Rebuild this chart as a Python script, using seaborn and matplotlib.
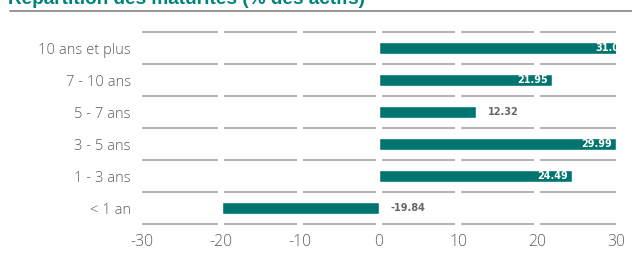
import matplotlib
matplotlib.use("Agg")
import matplotlib.pyplot as plt
from matplotlib.lines import Line2D
import seaborn as sns
import pandas as pd

categories = ["10 ans et plus", "7 - 10 ans", "5 - 7 ans", "3 - 5 ans", "1 - 3 ans", "< 1 an"]
values = [31.0, 21.95, 12.32, 29.99, 24.49, -19.84]
value_labels = ["31.0", "21.95", "12.32", "29.99", "24.49", "-19.84"]
x_ticks = [-30, -20, -10, 0, 10, 20, 30]

teal = "#00756f"
grey_txt = "#5e5e5e"
grid_col = "#a6a6a6"

sns.set_style("white")
plt.rcParams["font.family"] = ["Open Sans", "DejaVu Sans"]

df = pd.DataFrame({"cat": categories, "val": values})

fig = plt.figure(figsize=(6.32, 2.56), dpi=100)
ax = fig.add_axes([142 / 632, 1 - 224 / 256, 474 / 632, 192 / 256])

sns.barplot(data=df, x="val", y="cat", order=categories, color=teal,
            width=0.375, saturation=1, ax=ax, zorder=3)

ax.set_xlim(-30, 30)
ax.set_ylim(len(categories) - 0.5, -0.5)

# segmented horizontal grid between categories
gap = 0.42
for b in range(len(categories) + 1):
    yb = b - 0.5
    for i in range(len(x_ticks) - 1):
        x0 = x_ticks[i] + (gap if i > 0 else 0)
        x1 = x_ticks[i + 1] - (gap if i < len(x_ticks) - 2 else 0)
        ax.hlines(yb, x0, x1, color=grid_col, lw=1.2, zorder=1, clip_on=False)

# value labels
for i, (v, lab) in enumerate(zip(values, value_labels)):
    if v > 15:
        ax.annotate(lab, (v, i), xytext=(-3, 0), textcoords="offset points",
                    ha="right", va="center", color="white", fontsize=7,
                    fontweight="bold", family="DejaVu Sans", clip_on=True,
                    annotation_clip=False, zorder=4)
    else:
        ax.annotate(lab, (max(v, 0), i), xytext=(8.5, 0), textcoords="offset points",
                    ha="left", va="center", color="#666666", fontsize=7,
                    fontweight="bold", family="DejaVu Sans", zorder=4)

ax.set_xticks(x_ticks)
ax.set_xticklabels([str(t) for t in x_ticks])
ax.set_xlabel("")
ax.set_ylabel("")
ax.tick_params(axis="x", length=0, pad=7, labelsize=11.3, labelcolor=grey_txt)
ax.tick_params(axis="y", length=0, pad=8, labelsize=10.6, labelcolor=grey_txt)
for lab in ax.get_xticklabels() + ax.get_yticklabels():
    lab.set_fontweight("light")
sns.despine(ax=ax, left=True, bottom=True)

# title (cut at top edge) and rule underneath
fig.text(8 / 632, 1 - 3.5 / 256, "Répartition des maturités (% des actifs)",
         ha="left", va="baseline", fontsize=13.7, fontweight="bold",
         color="#00837c", family="Liberation Sans")
fig.add_artist(Line2D([10 / 632, 1], [1 - 11 / 256, 1 - 11 / 256],
                      color="#8c8c8c", lw=1.3, transform=fig.transFigure))

fig.savefig("out.png", dpi=100)
